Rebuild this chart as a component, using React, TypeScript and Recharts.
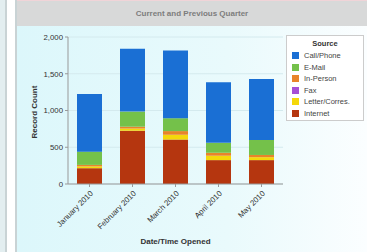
import React from "react";
import { BarChart, Bar, XAxis, YAxis, CartesianGrid } from "recharts";

const MONTHS = ["January 2010", "February 2010", "March 2010", "April 2010", "May 2010"];
const INTERNET = [215, 725, 605, 325, 325];
const LETTER = [25, 30, 65, 60, 40];
const FAX = [0, 0, 0, 0, 0];
const IN_PERSON = [20, 25, 50, 40, 30];
const EMAIL = [180, 205, 175, 135, 205];
const CALL_PHONE = [785, 855, 920, 825, 830];
const Y_TICKS = [0, 500, 1000, 1500, 2000];

// bottom to top in the stack
const SERIES = [
  { key: "internet", label: "Internet", color: "#b5360f", values: INTERNET },
  { key: "letter", label: "Letter/Corres.", color: "#f4d80a", values: LETTER },
  { key: "fax", label: "Fax", color: "#a64fd6", values: FAX },
  { key: "inPerson", label: "In-Person", color: "#e8842a", values: IN_PERSON },
  { key: "email", label: "E-Mail", color: "#74c14a", values: EMAIL },
  { key: "call", label: "Call/Phone", color: "#1a6fd4", values: CALL_PHONE },
];

const data = MONTHS.map((m, i) => {
  const row: Record<string, string | number> = { month: m };
  SERIES.forEach((s) => (row[s.key] = s.values[i]));
  return row;
});

const font = "'Liberation Sans', Arial, sans-serif";

function MonthTick(props: any) {
  const { x, y, payload } = props;
  return (
    <g transform={`translate(${x + 4},${y + 5})`}>
      <text textAnchor="end" transform="rotate(-45)" fontSize={7.8} fill="#333" fontFamily={font}>
        {payload.value}
      </text>
    </g>
  );
}

export default function App() {
  return (
    <div style={{ position: "absolute", left: 0, top: 0, width: 367, height: 252, overflow: "hidden", background: "#fff", fontFamily: font }}>
      <div style={{ position: "absolute", left: 0, top: 0, width: 5, height: 252, background: "#e3eef0" }} />
      <div style={{ position: "absolute", left: 5, top: 0, width: 2, height: 252, background: "#c9d3d5" }} />
      <div style={{ position: "absolute", left: 15, top: 0, width: 2, height: 252, background: "#c9d3d5" }} />
      <div style={{ position: "absolute", left: 17, top: 0, width: 350, height: 1, background: "#f0d4d8" }} />
      <div
        style={{
          position: "absolute",
          left: 17,
          top: 1,
          width: 350,
          height: 25,
          background: "#d8d9d9",
          color: "#7d7d7d",
          fontSize: 8,
          fontWeight: "bold",
          textAlign: "center",
          lineHeight: "26px",
        }}
      >
        Current and Previous Quarter
      </div>
      <div
        style={{
          position: "absolute",
          left: 17,
          top: 26,
          width: 350,
          height: 226,
          background: "linear-gradient(to right, #dcf7fb 0%, #e9fafc 60%, #fbfeff 100%)",
        }}
      />
      <div style={{ position: "absolute", left: 0, top: 0 }}>
        <BarChart width={367} height={252} data={data} margin={{ top: 37, right: 84, bottom: 28, left: 28 }} barSize={25}>
          <CartesianGrid vertical={false} stroke="#d4eaee" />
          <XAxis
            dataKey="month"
            height={40}
            tick={<MonthTick />}
            tickLine={{ stroke: "#999" }}
            tickSize={3}
            axisLine={{ stroke: "#999" }}
            interval={0}
            label={{ value: "Date/Time Opened", position: "insideBottom", dy: 25, fontSize: 8, fontWeight: "bold", fill: "#333", fontFamily: font }}
          />
          <YAxis
            width={40}
            domain={[0, 2000]}
            ticks={Y_TICKS}
            tickFormatter={(v: number) => v.toLocaleString("en-US")}
            tick={{ fontSize: 7.8, fill: "#333", fontFamily: font }}
            tickLine={{ stroke: "#999" }}
            tickSize={3}
            axisLine={{ stroke: "#999" }}
            label={{ value: "Record Count", angle: -90, position: "insideLeft", dx: 1, dy: 28, fontSize: 8, fontWeight: "bold", fill: "#333", fontFamily: font }}
          />
          {SERIES.map((s) => (
            <Bar key={s.key} dataKey={s.key} stackId="a" fill={s.color} name={s.label} isAnimationActive={false} />
          ))}
        </BarChart>
      </div>
      <div
        style={{
          position: "absolute",
          left: 286,
          top: 35,
          width: 78,
          height: 86,
          background: "#fff",
          border: "1px solid #ccc",
          boxSizing: "border-box",
          fontSize: 7.5,
          color: "#444",
        }}
      >
        <div style={{ textAlign: "center", fontWeight: "bold", color: "#333", marginTop: 3, marginBottom: 2 }}>Source</div>
        {[...SERIES].reverse().map((s) => (
          <div key={s.key} style={{ display: "flex", alignItems: "center", height: 11.5, paddingLeft: 5, whiteSpace: "nowrap" }}>
            <span style={{ width: 7, height: 7, background: s.color, marginRight: 5, flex: "none" }} />
            {s.label}
          </div>
        ))}
      </div>
    </div>
  );
}
